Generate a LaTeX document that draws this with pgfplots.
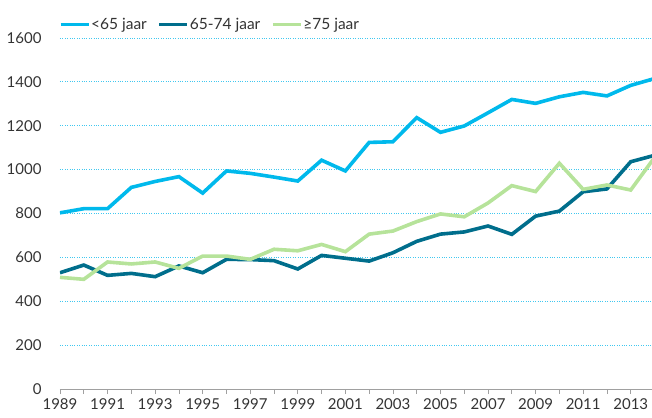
\documentclass[border=0pt]{standalone}
\usepackage{pgfplots}
\pgfplotsset{compat=1.18}
\usepackage{fontspec}
\setmainfont{Lato}
\definecolor{cLight}{HTML}{00B9EC}
\definecolor{cDark}{HTML}{006E8C}
\definecolor{cGreen}{HTML}{B6E39A}
\definecolor{cGrid}{HTML}{40C8F0}
\definecolor{cText}{HTML}{333333}
\definecolor{cAxis}{HTML}{A0A0A0}
\begin{document}
\begin{tikzpicture}
\begin{axis}[
  scale only axis,
  width=594.5pt, height=351pt,
  xmin=1989, xmax=2014, ymin=0, ymax=1600,
  axis x line*=bottom, axis y line*=left,
  y axis line style={draw=none},
  x axis line style={cAxis, line width=0.8pt},
  xtick={1989,1991,...,2013},
  minor xtick={1990,1992,...,2014},
  xticklabel style={/pgf/number format/1000 sep={}, yshift=-1pt},
  ytick={0,200,...,1600},
  yticklabel style={/pgf/number format/1000 sep={}, xshift=-10pt},
  /pgf/number format/assume math mode=true,
  tick align=outside,
  major tick length=5pt, minor tick length=5pt,
  major x tick style={cAxis, line width=0.8pt},
  minor x tick style={cAxis, line width=0.8pt},
  ytick style={draw=none},
  ymajorgrids,
  major grid style={cGrid, dotted, line width=0.8pt},
  tick label style={font=\fontsize{15}{17}\selectfont, text=cText},
  legend style={at={(0,1)}, anchor=south west, yshift=3pt, xshift=-4pt, draw=none, fill=none,
    font=\fontsize{15.5}{17}\selectfont, text=cText,
    nodes={inner xsep=1pt},
    /tikz/every even column/.append style={column sep=10pt}},
  legend columns=-1,
  legend image code/.code={\draw[#1, line width=3pt] (0pt,0pt) -- (28pt,0pt);},
  every axis plot/.append style={line width=3.6pt, line join=miter, mark=none},
]
\addplot[cLight] coordinates {
(1989,803) (1990,822) (1991,822) (1992,919) (1993,946) (1994,968) (1995,893)
(1996,994) (1997,983) (1998,966) (1999,948) (2000,1043) (2001,994) (2002,1124)
(2003,1127) (2004,1237) (2005,1170) (2006,1199) (2007,1259) (2008,1320)
(2009,1302) (2010,1332) (2011,1352) (2012,1336) (2013,1384) (2014,1415)};
\addlegendentry{<65 jaar}
\addplot[cDark] coordinates {
(1989,530) (1990,565) (1991,518) (1992,527) (1993,512) (1994,561) (1995,530)
(1996,591) (1997,590) (1998,585) (1999,547) (2000,609) (2001,596) (2002,583)
(2003,621) (2004,673) (2005,706) (2006,716) (2007,743) (2008,705)
(2009,788) (2010,811) (2011,899) (2012,912) (2013,1036) (2014,1065)};
\addlegendentry{65-74 jaar}
\addplot[cGreen] coordinates {
(1989,509) (1990,500) (1991,579) (1992,570) (1993,579) (1994,550) (1995,606)
(1996,606) (1997,591) (1998,637) (1999,630) (2000,659) (2001,626) (2002,706)
(2003,720) (2004,763) (2005,798) (2006,785) (2007,848) (2008,927)
(2009,900) (2010,1029) (2011,910) (2012,930) (2013,907) (2014,1055)};
\addlegendentry{≥75 jaar}
\end{axis}
\pgfresetboundingbox
\path[use as bounding box] (-60pt,-28pt) rectangle (592pt,389pt);
\end{tikzpicture}
\end{document}
